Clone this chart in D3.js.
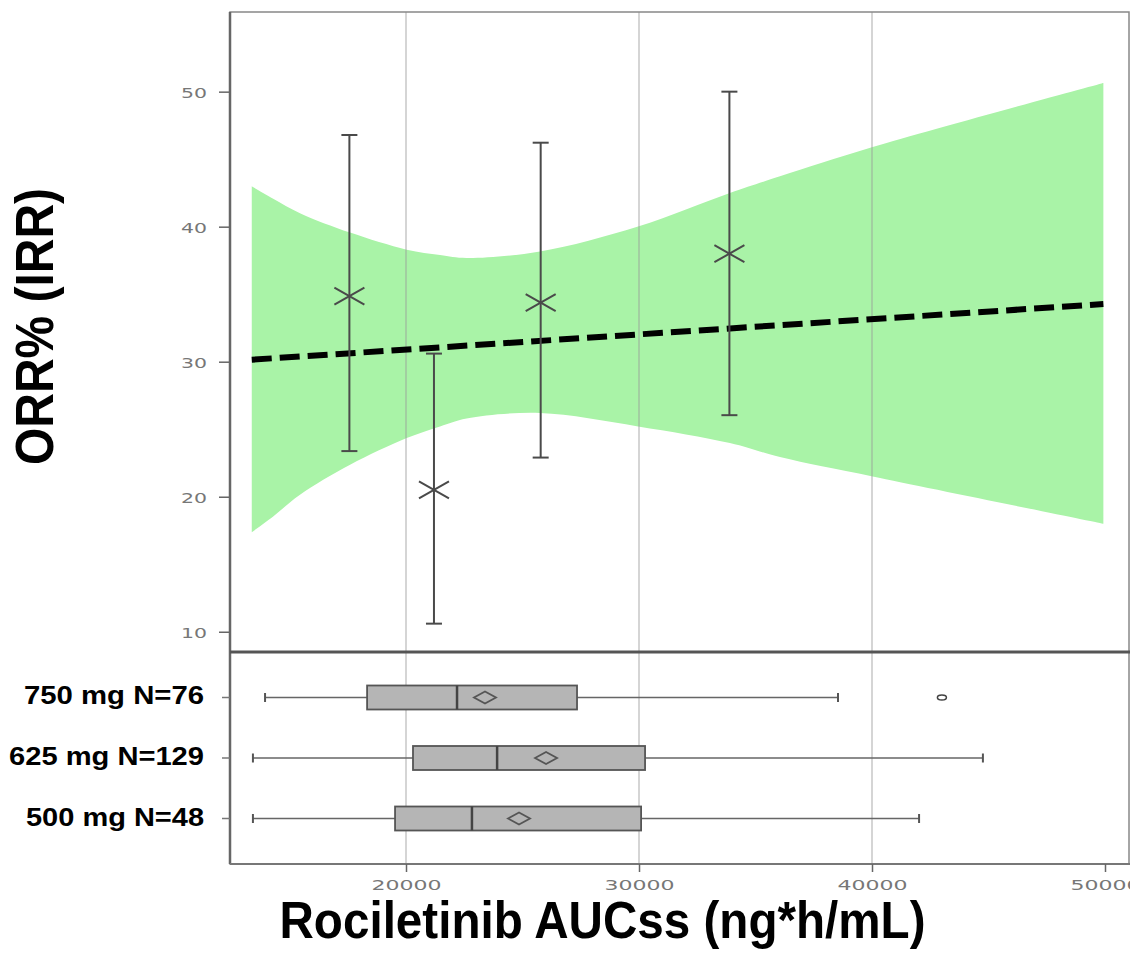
<!DOCTYPE html>
<html>
<head>
<meta charset="utf-8">
<script src="https://cdn.jsdelivr.net/npm/d3@7"></script>
<style>
  body { margin: 0; background: #fff; }
  svg { display: block; }
</style>
</head>
<body>
<svg id="chart"></svg>
<script>
// ORR points with 95% CI per exposure quartile
const pointX = [17570, 21200, 25780, 33880];
const pointY = [34.85, 20.5, 34.37, 38.0];
const pointLo = [23.38, 10.6, 22.9, 26.04];
const pointHi = [46.79, 30.6, 46.22, 50.0];

// logistic fit and its confidence band
const fitX = [13380, 49930];
const fitY = [30.15, 34.27];
const bandX = [13380, 14300, 15450, 17600, 20030, 21460, 22600, 25750, 29960, 33900, 36050, 40030, 49930];
const bandUpper = [42.99, 42.07, 41.0, 39.56, 38.3, 37.9, 37.68, 38.17, 40.02, 42.5, 43.73, 45.9, 50.64];
const bandLower = [17.37, 18.54, 20.15, 22.37, 24.35, 25.21, 25.8, 26.2, 25.21, 23.98, 22.94, 21.5, 18.0];

const yTicks = [10, 20, 30, 40, 50];
const xTicks = [20000, 30000, 40000, 50000];

// AUCss box plots by dose
const doseLabels = ["750 mg N=76", "625 mg N=129", "500 mg N=48"];
const whiskLo = [13950, 13430, 13430];
const q1 = [18330, 20300, 19530];
const median = [22190, 23910, 22830];
const mean = [23390, 26010, 24850];
const q3 = [27340, 30260, 30090];
const whiskHi = [38540, 44760, 42020];
const outliers = [[43000], [], []];

const width = 1130, height = 956;
const plotLeft = 230, plotRight = 1129, plotTop = 12, plotSplit = 652, plotBottom = 864;

const svg = d3.select("#chart").attr("width", width).attr("height", height);

const x = d3.scaleLinear().domain([12446, 51030]).range([plotLeft, plotRight]);
const y = d3.scaleLinear().domain([8.5, 55.9]).range([plotSplit, plotTop]);
const row = d3.scaleBand().domain(doseLabels).range([plotSplit, plotBottom])
  .paddingInner(0.6).paddingOuter(0.552);

const tickFont = "DejaVu Sans, sans-serif";

// confidence band
const band = bandX.map((v, i) => ({ x: v, lo: bandLower[i], hi: bandUpper[i] }));
svg.append("path")
  .datum(band)
  .attr("fill", "#a9f3a7")
  .attr("d", d3.area()
    .curve(d3.curveCatmullRom.alpha(0.5))
    .x(d => x(d.x))
    .y0(d => y(d.lo))
    .y1(d => y(d.hi)));

// vertical grid through both panels
svg.append("g")
  .selectAll("line")
  .data([20000, 30000, 40000])
  .join("line")
  .attr("x1", d => x(d)).attr("x2", d => x(d))
  .attr("y1", plotTop).attr("y2", plotBottom)
  .attr("stroke", "#999")
  .attr("stroke-opacity", 0.55)
  .attr("stroke-width", 1.5);

// fitted line
svg.append("path")
  .datum(fitX.map((v, i) => [v, fitY[i]]))
  .attr("fill", "none")
  .attr("stroke", "#000")
  .attr("stroke-width", 6)
  .attr("stroke-dasharray", "20,8")
  .attr("d", d3.line().x(d => x(d[0])).y(d => y(d[1])));

// error bars and crosses
const pts = svg.append("g").selectAll("g")
  .data(pointX.map((v, i) => ({ x: v, y: pointY[i], lo: pointLo[i], hi: pointHi[i] })))
  .join("g")
  .attr("stroke", "#4a4a4a")
  .attr("stroke-width", 2)
  .attr("fill", "none");

pts.append("line")
  .attr("x1", d => x(d.x)).attr("x2", d => x(d.x))
  .attr("y1", d => y(d.lo)).attr("y2", d => y(d.hi));
pts.append("line")
  .attr("x1", d => x(d.x) - 8).attr("x2", d => x(d.x) + 8)
  .attr("y1", d => y(d.hi)).attr("y2", d => y(d.hi));
pts.append("line")
  .attr("x1", d => x(d.x) - 8).attr("x2", d => x(d.x) + 8)
  .attr("y1", d => y(d.lo)).attr("y2", d => y(d.lo));
pts.append("path")
  .attr("transform", d => `translate(${x(d.x)},${y(d.y)})`)
  .attr("d", "M-15,-8.5L15,8.5M-15,8.5L15,-8.5");

// box plots
const boxH = 24;
const boxes = svg.append("g").selectAll("g")
  .data(doseLabels.map((name, i) => ({
    name, lo: whiskLo[i], q1: q1[i], med: median[i], mean: mean[i],
    q3: q3[i], hi: whiskHi[i], out: outliers[i]
  })))
  .join("g")
  .attr("transform", d => `translate(0,${row(d.name) + row.bandwidth() / 2})`);

boxes.each(function(d) {
  const g = d3.select(this);

  // whiskers
  g.append("line")
    .attr("x1", x(d.lo)).attr("x2", x(d.hi))
    .attr("stroke", "#666").attr("stroke-width", 1.5);
  [d.lo, d.hi].forEach(v => {
    g.append("line")
      .attr("x1", x(v)).attr("x2", x(v))
      .attr("y1", -4.5).attr("y2", 4.5)
      .attr("stroke", "#555").attr("stroke-width", 2);
  });

  // box
  g.append("rect")
    .attr("x", x(d.q1))
    .attr("y", -boxH / 2)
    .attr("width", x(d.q3) - x(d.q1))
    .attr("height", boxH)
    .attr("fill", "#b5b5b5")
    .attr("stroke", "#555")
    .attr("stroke-width", 1.8);

  // median
  g.append("line")
    .attr("x1", x(d.med)).attr("x2", x(d.med))
    .attr("y1", -boxH / 2).attr("y2", boxH / 2)
    .attr("stroke", "#444").attr("stroke-width", 2.5);

  // mean diamond
  g.append("path")
    .attr("transform", `translate(${x(d.mean)},0)`)
    .attr("d", "M-11,0L0,-6L11,0L0,6Z")
    .attr("fill", "none")
    .attr("stroke", "#555")
    .attr("stroke-width", 1.8);

  // outliers
  g.selectAll("ellipse.out")
    .data(d.out)
    .join("ellipse")
    .attr("cx", v => x(v))
    .attr("rx", 4.5).attr("ry", 2.5)
    .attr("fill", "none")
    .attr("stroke", "#444")
    .attr("stroke-width", 1.5);
});

// frame
svg.append("rect")
  .attr("x", plotLeft).attr("y", plotTop)
  .attr("width", plotRight - plotLeft).attr("height", plotBottom - plotTop)
  .attr("fill", "none").attr("stroke", "#888").attr("stroke-width", 1.5);
svg.append("line")
  .attr("x1", plotLeft).attr("x2", plotLeft).attr("y1", plotTop).attr("y2", plotBottom)
  .attr("stroke", "#666").attr("stroke-width", 2.5);
svg.append("line")
  .attr("x1", plotLeft).attr("x2", plotRight + 2).attr("y1", plotBottom).attr("y2", plotBottom)
  .attr("stroke", "#777").attr("stroke-width", 2);
svg.append("line")
  .attr("x1", plotLeft).attr("x2", plotRight + 2).attr("y1", plotSplit).attr("y2", plotSplit)
  .attr("stroke", "#555").attr("stroke-width", 3);

// upper y axis
const yAxis = svg.append("g")
  .attr("transform", `translate(${plotLeft},0)`)
  .call(d3.axisLeft(y).tickValues(yTicks).tickSize(11).tickPadding(12));
yAxis.select(".domain").remove();
yAxis.selectAll("line").attr("stroke", "#666").attr("stroke-width", 1.5);
yAxis.selectAll("text")
  .attr("font-family", tickFont)
  .attr("font-size", 14.5)
  .attr("fill", "#777")
  .attr("dy", "0.4em")
  .attr("textLength", 26)
  .attr("lengthAdjust", "spacingAndGlyphs");

// box panel y ticks and dose labels
const rowAxis = svg.append("g")
  .attr("transform", `translate(${plotLeft},0)`)
  .call(d3.axisLeft(row).tickSize(8).tickFormat(""));
rowAxis.select(".domain").remove();
rowAxis.selectAll("line").attr("stroke", "#777").attr("stroke-width", 1.5);

const labelWidths = [180, 195, 178];
svg.append("g").selectAll("text")
  .data(doseLabels)
  .join("text")
  .attr("x", 204)
  .attr("y", d => row(d) + row.bandwidth() / 2 + 7)
  .attr("text-anchor", "end")
  .attr("font-family", "Liberation Sans, Arial, sans-serif")
  .attr("font-weight", "bold")
  .attr("font-size", 25.5)
  .attr("textLength", (d, i) => labelWidths[i])
  .attr("lengthAdjust", "spacingAndGlyphs")
  .text(d => d);

// x axis
const xAxis = svg.append("g")
  .attr("transform", `translate(0,${plotBottom})`)
  .call(d3.axisBottom(x).tickValues(xTicks).tickSize(8).tickPadding(7.5).tickFormat(d3.format("d")));
xAxis.select(".domain").remove();
xAxis.selectAll("line").attr("stroke", "#666").attr("stroke-width", 1.5);
xAxis.selectAll("text")
  .attr("font-family", tickFont)
  .attr("font-size", 14.5)
  .attr("fill", "#777")
  .attr("textLength", 70)
  .attr("lengthAdjust", "spacingAndGlyphs");

// axis titles
svg.append("text")
  .attr("transform", "translate(53,326.5) rotate(-90)")
  .attr("text-anchor", "middle")
  .attr("font-family", "Liberation Sans, Arial, sans-serif")
  .attr("font-weight", "bold")
  .attr("font-size", 53)
  .attr("textLength", 277)
  .attr("lengthAdjust", "spacingAndGlyphs")
  .text("ORR% (IRR)");

svg.append("text")
  .attr("x", 602.5)
  .attr("y", 938)
  .attr("text-anchor", "middle")
  .attr("font-family", "Liberation Sans, Arial, sans-serif")
  .attr("font-weight", "bold")
  .attr("font-size", 52)
  .attr("textLength", 646)
  .attr("lengthAdjust", "spacingAndGlyphs")
  .text("Rociletinib AUCss (ng*h/mL)");
</script>
</body>
</html>
